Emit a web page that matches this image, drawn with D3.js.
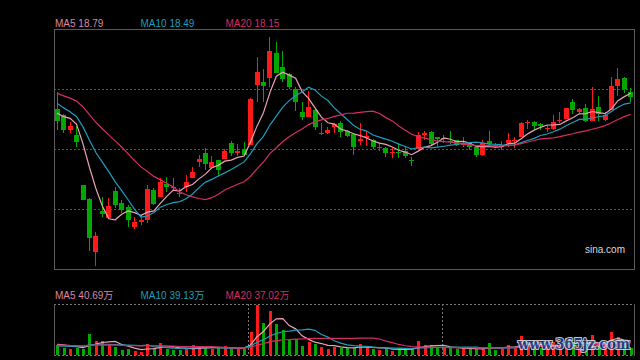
<!DOCTYPE html>
<html><head><meta charset="utf-8">
<script src="https://cdn.jsdelivr.net/npm/d3@7"></script>
<style>html,body{margin:0;padding:0;background:#000;}svg{display:block;}</style>
</head><body><svg id="c" width="640" height="360"></svg>
<script>
// ---- data (prices in CNY, volumes in 万) ----
const opens = [18.28,18.09,17.61,17.45,15.85,15.40,13.70,15.03,14.79,15.65,
15.27,15.14,14.49,14.68,14.74,15.69,15.47,15.88,15.78,15.59,
15.77,16.07,16.59,16.86,16.38,16.65,16.68,17.20,16.87,16.99,
17.13,19.05,19.15,19.26,20.08,19.63,19.39,18.92,18.19,18.03,
18.25,17.49,17.50,17.71,17.82,17.57,17.47,17.25,17.34,17.29,
17.03,17.02,16.86,16.90,16.93,16.66,16.99,17.45,17.55,17.37,
17.31,17.25,17.29,17.13,17.18,17.07,16.81,17.25,17.14,17.05,
17.18,17.26,17.37,17.85,17.87,17.80,17.64,17.64,17.90,17.96,
18.51,18.19,18.30,17.90,18.33,17.93,18.25,19.01,19.28,18.83];
const closes = [17.89,17.61,17.73,17.22,15.37,14.15,14.22,14.92,15.17,15.21,
15.05,14.73,14.66,14.74,15.72,15.24,15.95,15.77,15.75,15.57,
15.95,16.27,16.68,16.51,16.59,16.33,16.94,16.86,16.93,16.81,
18.59,19.47,19.01,20.14,19.44,19.24,18.99,18.51,18.01,18.35,
17.71,17.51,17.61,17.80,17.55,17.41,17.07,17.32,17.41,17.07,
17.06,16.88,16.91,16.88,16.78,16.64,17.45,17.52,17.15,17.31,
17.36,17.22,17.13,17.20,17.05,16.81,17.20,17.15,17.09,17.13,
17.29,17.29,17.84,17.87,17.73,17.74,17.66,17.87,17.93,18.30,
18.25,18.28,17.90,18.27,18.12,18.09,19.01,19.24,18.92,18.67];
const highs = [18.82,18.12,17.88,17.73,15.85,15.43,14.33,15.46,15.43,15.80,
15.37,15.21,14.81,14.89,15.85,15.75,16.07,16.10,16.07,15.75,
16.18,16.43,16.81,17.02,16.78,16.66,16.99,17.25,17.15,17.23,
18.62,19.95,19.55,20.59,20.43,20.13,19.43,18.99,18.51,18.85,
18.27,17.84,17.71,17.82,17.89,17.61,17.51,17.82,17.58,17.31,
17.18,17.05,17.02,17.18,17.07,16.75,17.53,17.58,17.57,17.39,
17.45,17.57,17.30,17.39,17.19,17.09,17.29,17.57,17.19,17.25,
17.50,17.39,17.87,17.93,17.89,17.82,17.77,18.09,18.19,18.31,
18.60,18.30,18.44,18.99,18.70,18.18,19.31,19.60,19.31,18.96];
const lows = [17.61,17.51,17.51,17.06,15.37,13.73,13.27,14.82,14.76,15.11,
14.95,14.50,14.44,14.57,14.63,15.21,15.45,15.64,15.69,15.46,
15.64,16.07,16.41,16.33,16.35,16.14,16.68,16.77,16.77,16.77,
17.13,18.51,18.51,18.97,19.42,19.15,18.91,18.21,17.94,18.01,
17.61,17.45,17.48,17.52,17.39,17.39,16.81,17.13,17.09,16.99,
16.94,16.75,16.70,16.70,16.70,16.45,16.97,17.29,17.13,17.05,
17.20,17.16,17.09,17.05,16.97,16.75,16.77,17.13,17.03,16.97,
17.05,17.04,17.37,17.64,17.64,17.61,17.55,17.61,17.82,17.96,
18.11,18.16,17.87,17.89,17.90,17.91,18.25,18.70,18.78,18.51];
const volumes = [28.7,21.0,16.4,21.0,18.1,60.3,40.2,40.2,30.7,23.8,
15.2,18.1,11.5,9.5,31.6,21.0,35.3,17.2,15.2,14.4,
17.2,28.7,20.1,21.0,18.1,21.0,25.8,17.2,17.2,17.2,
66.9,143.5,92.7,126.3,89.0,71.8,43.1,45.1,25.8,38.2,
31.6,23.8,18.1,23.8,20.1,21.0,19.2,30.7,22.1,16.4,
14.4,20.1,11.5,19.2,16.4,16.4,40.2,28.7,28.7,19.2,
21.0,21.0,17.2,19.2,16.4,16.4,19.2,34.4,15.2,17.2,
28.7,19.2,54.5,34.4,23.8,19.2,23.8,38.2,28.7,48.8,
34.4,23.8,28.7,57.4,28.7,33.6,66.9,50.8,33.6,19.2];
// sessions before the first visible candle (feed the moving averages only)
const priorCloses = [19.21,19.18,19.14,19.11,19.11,19.08,19.08,19.05,19.05,19.01,
19.05,18.95,18.82,18.63,18.41,18.18,17.99,18.18,18.50];
const priorVolumes = [30,33,29,34,31,32,30,33,31,33,22,19,23,20,21,29,33,30,32];
const maPeriods = [5,10,20];
const maNames = ["MA5","MA10","MA20"];
const priceLegend = ["18.79","18.49","18.15"];
const volumeLegend = ["40.69万","39.13万","37.02万"];
const sessionBreaks = [30,60];

// ---- style ----
const maColors = ["#e8a2b8","#1c9ebc","#d42c64"];
const maTextColors = ["#d98aa2","#1c9ebc","#d42c64"];
const upColor = "#ff1a1a", downColor = "#00a800";
const gridColor = "#555", borderColor = "#5c5c5c";
const font = "'Liberation Sans', Arial, 'Noto Sans CJK SC', sans-serif";

const svg = d3.select("#c");
svg.append("rect").attr("width",640).attr("height",360).attr("fill","#000");

const L = 54, R = 634, T = 29, B = 269;
const VT = 304, VB = 355;
const idx = d3.range(closes.length);
const x = d3.scaleBand().domain(idx).range([L, R]).padding(0);
const cx = i => x(i) + x.bandwidth()/2;
const y = d3.scaleLinear().domain([13.16, 20.84]).range([B, T]);
const vy = d3.scaleLinear().domain([0, 146.4]).range([VB, VT]);

function movingAvg(prior, series, n){
  const all = prior.concat(series);
  return series.map((_, i) => d3.mean(all.slice(i + prior.length - n + 1, i + prior.length + 1)));
}

// ---- main panel grid + border ----
const gMain = svg.append("g");
[1,2,3].forEach(k => {
  const yy = Math.round(T + (B - T) * k / 4) + 0.5;
  gMain.append("line").attr("x1",L).attr("x2",R).attr("y1",yy).attr("y2",yy)
    .attr("stroke",gridColor).attr("stroke-dasharray","2,2");
});
gMain.append("rect").attr("x",L+0.5).attr("y",T+0.5).attr("width",R-L).attr("height",B-T)
  .attr("fill","none").attr("stroke",borderColor);

svg.append("defs").append("clipPath").attr("id","clipMain")
  .append("rect").attr("x",L+1).attr("y",T+1).attr("width",R-L-1).attr("height",B-T-1);
svg.select("defs").append("clipPath").attr("id","clipVol")
  .append("rect").attr("x",L+1).attr("y",VT).attr("width",R-L-1).attr("height",VB-VT);

// candles
const gC = svg.append("g").attr("shape-rendering","crispEdges");
idx.forEach(i => {
  const up = closes[i] >= opens[i];
  const col = up ? upColor : downColor;
  const bx = Math.round(cx(i) - 2.5);
  gC.append("line").attr("x1",bx+2.5).attr("x2",bx+2.5)
    .attr("y1",y(highs[i])).attr("y2",y(lows[i])).attr("stroke",col);
  const top = y(Math.max(opens[i],closes[i])), bot = y(Math.min(opens[i],closes[i]));
  gC.append("rect").attr("x",bx).attr("y",top).attr("width",5)
    .attr("height",Math.max(1, bot - top)).attr("fill",col);
});

// price MAs
const gMA = svg.append("g").attr("clip-path","url(#clipMain)");
maPeriods.forEach((n, k) => {
  const ma = movingAvg(priorCloses, closes, n);
  gMA.append("path").datum(ma)
    .attr("d", d3.line().x((d,i)=>cx(i)).y(d=>y(d)))
    .attr("fill","none").attr("stroke",maColors[k]).attr("stroke-width",1.2);
});

// legends
function legend(yy, values){
  const pos = [55, 140.5, 225.5];
  maNames.forEach((nm,k) => {
    svg.append("text").attr("x",pos[k]).attr("y",yy).attr("fill",maTextColors[k])
      .attr("font-family",font).attr("font-size",10).text(nm + " " + values[k]);
  });
}
legend(27, priceLegend);
legend(299, volumeLegend);

svg.append("text").attr("x",625).attr("y",253).attr("text-anchor","end")
  .attr("fill","#d8d8d8").attr("font-family",font).attr("font-size",10).text("sina.com");

// ---- volume panel ----
const gV = svg.append("g");
gV.append("line").attr("x1",L).attr("x2",R).attr("y1",VT+0.5).attr("y2",VT+0.5)
  .attr("stroke","#777").attr("stroke-dasharray","2,2");
gV.append("line").attr("x1",L).attr("x2",R).attr("y1",VB+0.5).attr("y2",VB+0.5)
  .attr("stroke","#777").attr("stroke-dasharray","2,2");
gV.append("line").attr("x1",L+0.5).attr("x2",L+0.5).attr("y1",VT).attr("y2",VB+1).attr("stroke",borderColor);
gV.append("line").attr("x1",R+0.5).attr("x2",R+0.5).attr("y1",VT).attr("y2",VB+1).attr("stroke",borderColor);
sessionBreaks.forEach(b => {
  const xx = Math.round(x(b)) + 1.5;
  gV.append("line").attr("x1",xx).attr("x2",xx).attr("y1",VT).attr("y2",VB)
    .attr("stroke","#777").attr("stroke-dasharray","2,2");
});
const gVB = svg.append("g").attr("shape-rendering","crispEdges");
idx.forEach(i => {
  const up = closes[i] >= opens[i];
  gVB.append("rect").attr("x",Math.round(cx(i) - 1)).attr("y",vy(volumes[i]))
    .attr("width",3).attr("height",VB - vy(volumes[i])).attr("fill", up ? upColor : downColor);
});
const gVMA = svg.append("g").attr("clip-path","url(#clipVol)");
maPeriods.forEach((n, k) => {
  const ma = movingAvg(priorVolumes, volumes, n);
  gVMA.append("path").datum(ma)
    .attr("d", d3.line().x((d,i)=>cx(i)).y(d=>vy(d)))
    .attr("fill","none").attr("stroke",maColors[k]).attr("stroke-width",1.2);
});

// site watermark
svg.append("text").attr("x",518).attr("y",349).attr("textLength",112)
  .attr("lengthAdjust","spacingAndGlyphs")
  .attr("font-family","'DejaVu Serif', serif").attr("font-weight","bold").attr("font-size",14)
  .attr("fill","#1f3f8c").attr("stroke","#dfe8f2").attr("stroke-width",2)
  .attr("paint-order","stroke").attr("opacity",0.85).text("www.365jz.com");
</script></body></html>
